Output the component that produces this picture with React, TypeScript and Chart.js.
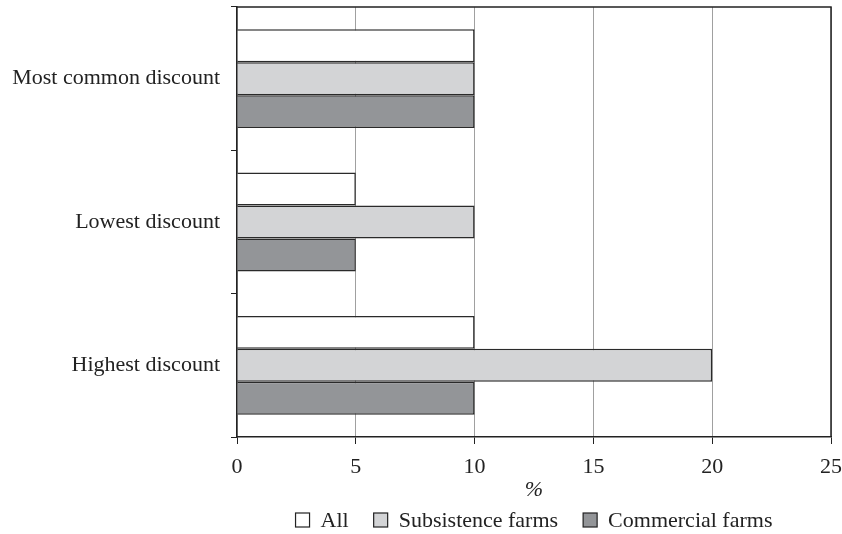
import React, { useEffect, useRef } from "react";
import { Chart, registerables } from "chart.js";

Chart.register(...registerables);

const categories = ["Most common discount", "Lowest discount", "Highest discount"];
const seriesNames = ["All", "Subsistence farms", "Commercial farms"];
const allValues = [10, 5, 10];
const subsistenceValues = [10, 10, 20];
const commercialValues = [10, 5, 10];
const xTicks = [0, 5, 10, 15, 20, 25];
const xTitle = "%";

const FONT = "'Liberation Serif', 'DejaVu Serif', serif";
const FS = 22;

export default function App() {
  const ref = useRef<HTMLCanvasElement | null>(null);

  useEffect(() => {
    if (!ref.current) return;
    const framePlugin = {
      id: "frame",
      afterDraw(chart: any) {
        const { ctx, chartArea } = chart;
        ctx.save();
        ctx.strokeStyle = "#222";
        ctx.lineWidth = 1.5;
        ctx.beginPath();
        ctx.moveTo(chartArea.left, chartArea.top);
        ctx.lineTo(chartArea.right, chartArea.top);
        ctx.lineTo(chartArea.right, chartArea.bottom);
        ctx.stroke();

        // legend
        const ds = chart.data.datasets;
        ctx.font = `${FS}px ${FONT}`;
        ctx.textBaseline = "middle";
        const box = 14;
        const gapBox = 11;
        const gapItem = 25;
        const widths = ds.map((d: any) => ctx.measureText(d.label).width);
        let total = 0;
        widths.forEach((w: number, i: number) => {
          total += box + gapBox + w + (i < widths.length - 1 ? gapItem : 0);
        });
        const cx = (chartArea.left + chartArea.right) / 2;
        let x = cx - total / 2;
        const y = 520;
        ds.forEach((d: any, i: number) => {
          ctx.fillStyle = d.backgroundColor;
          ctx.fillRect(x, y - box / 2, box, box);
          ctx.strokeStyle = "#222";
          ctx.lineWidth = 1.2;
          ctx.strokeRect(x, y - box / 2, box, box);
          ctx.fillStyle = "#222";
          ctx.textAlign = "left";
          ctx.fillText(d.label, x + box + gapBox, y + 1);
          x += box + gapBox + widths[i] + gapItem;
        });
        ctx.restore();
      },
    };
    const chart = new Chart(ref.current, {
      type: "bar",
      data: {
        labels: categories,
        datasets: [
          { label: seriesNames[0], data: allValues, backgroundColor: "#ffffff", borderColor: "#2a2a2a", borderWidth: 1.5 },
          { label: seriesNames[1], data: subsistenceValues, backgroundColor: "#d3d4d6", borderColor: "#2a2a2a", borderWidth: 1.5 },
          { label: seriesNames[2], data: commercialValues, backgroundColor: "#939598", borderColor: "#2a2a2a", borderWidth: 1.5 },
        ],
      },
      options: {
        indexAxis: "y",
        animation: false,
        responsive: false,
        maintainAspectRatio: false,
        datasets: { bar: { barPercentage: 1, categoryPercentage: 0.69 } },
        layout: { padding: { left: 0, right: 11, top: 7, bottom: 31 } },
        plugins: {
          tooltip: { enabled: false },
          legend: { display: false },
        },
        scales: {
          x: {
            type: "linear",
            min: 0,
            max: 25,
            afterBuildTicks: (scale: any) => {
              scale.ticks = xTicks.map((v) => ({ value: v }));
            },
            afterFit: (scale: any) => {
              scale.height = 66;
              scale.paddingLeft = 0;
              scale.paddingRight = 0;
            },
            grid: {
              color: "#a0a0a0",
              lineWidth: 1,
              tickColor: "#222",
              tickLength: 7,
              drawTicks: true,
            },
            border: { color: "#222", width: 1.5 },
            ticks: {
              font: { family: FONT, size: FS },
              color: "#222",
              padding: 10,
            },
            title: {
              display: true,
              text: xTitle,
              font: { family: FONT, size: FS, style: "italic" },
              color: "#222",
              padding: { top: 0, bottom: 0 },
            },
          },
          y: {
            type: "category",
            offset: true,
            afterFit: (scale: any) => {
              scale.width = 237;
              scale.paddingTop = 0;
              scale.paddingBottom = 0;
            },
            grid: {
              offset: true,
              drawOnChartArea: false,
              drawTicks: true,
              tickLength: 6,
              tickColor: "#222",
              color: "#222",
            },
            border: { color: "#222", width: 1.5 },
            ticks: {
              font: { family: FONT, size: FS },
              color: "#222",
              padding: 11,
            },
          },
        },
      },
      plugins: [framePlugin],
    } as any);
    return () => chart.destroy();
  }, []);

  return (
    <div style={{ position: "fixed", left: 0, top: 0, width: 842, height: 534, background: "#fff" }}>
      <canvas ref={ref} width={842} height={534} style={{ width: 842, height: 534, display: "block" }} />
    </div>
  );
}
